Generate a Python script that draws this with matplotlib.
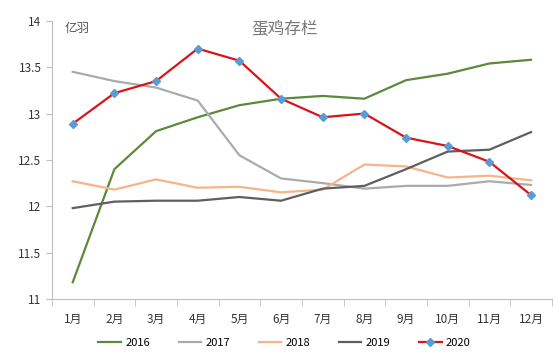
import matplotlib
matplotlib.use("Agg")
import matplotlib.pyplot as plt
import numpy as np

plt.rcParams['font.family'] = ['Noto Sans CJK SC', 'DejaVu Sans']

months = ["1月", "2月", "3月", "4月", "5月", "6月", "7月", "8月", "9月", "10月", "11月", "12月"]
y2016 = [11.18, 12.40, 12.81, 12.96, 13.09, 13.16, 13.19, 13.16, 13.36, 13.43, 13.54, 13.58]
y2017 = [13.45, 13.35, 13.28, 13.14, 12.55, 12.30, 12.25, 12.19, 12.22, 12.22, 12.27, 12.23]
y2018 = [12.27, 12.18, 12.29, 12.20, 12.21, 12.15, 12.18, 12.45, 12.43, 12.31, 12.33, 12.28]
y2019 = [11.98, 12.05, 12.06, 12.06, 12.10, 12.06, 12.19, 12.22, 12.40, 12.59, 12.61, 12.80]
y2020 = [12.89, 13.22, 13.35, 13.70, 13.57, 13.16, 12.96, 13.00, 12.74, 12.65, 12.48, 12.12]

fig = plt.figure(figsize=(5.58, 3.53), dpi=100)
ax = fig.add_axes([0.093, 0.153, 0.896, 0.788])
x = np.arange(len(months))

ax.plot(x, y2016, color="#5A8A3A", lw=1.6, label="2016")
ax.plot(x, y2017, color="#ABABAB", lw=1.6, label="2017")
ax.plot(x, y2018, color="#F6B48A", lw=1.6, label="2018")
ax.plot(x, y2019, color="#5F5F5F", lw=1.6, label="2019")
ax.plot(x, y2020, color="#D9141B", lw=1.6, marker="D", ms=4.5,
        mfc="#5B9BD5", mec="#5B9BD5", label="2020")

ax.set_xlim(-0.5, 11.5)
ax.set_ylim(11, 14)
ax.set_yticks([11, 11.5, 12, 12.5, 13, 13.5, 14])
ax.set_yticklabels(["11", "11.5", "12", "12.5", "13", "13.5", "14"])
ax.set_xticks(x)
ax.set_xticklabels(months)
ax.set_xticks(np.arange(-0.5, 12, 1), minor=True)
ax.tick_params(axis="x", which="major", length=0, pad=10, labelsize=8.5, colors="#333333")
ax.tick_params(axis="x", which="minor", length=5, color="#BFBFBF")
ax.tick_params(axis="y", length=4, color="#BFBFBF", labelsize=8.5, labelcolor="#333333")
for s in ["top", "right"]:
    ax.spines[s].set_visible(False)
for s in ["left", "bottom"]:
    ax.spines[s].set_color("#BFBFBF")

ax.text(0.026, 0.971, "亿羽", transform=ax.transAxes, fontsize=9, color="#555555", va="center")
ax.text(0.466, 0.968, "蛋鸡存栏", transform=ax.transAxes, fontsize=12, color="#777777",
        va="center", ha="center")

fig.legend(loc="lower center", ncol=5, frameon=False, fontsize=8,
           bbox_to_anchor=(0.51, -0.015), handlelength=2.0, handletextpad=0.4,
           columnspacing=2.6)

fig.savefig("out.png", dpi=100)
